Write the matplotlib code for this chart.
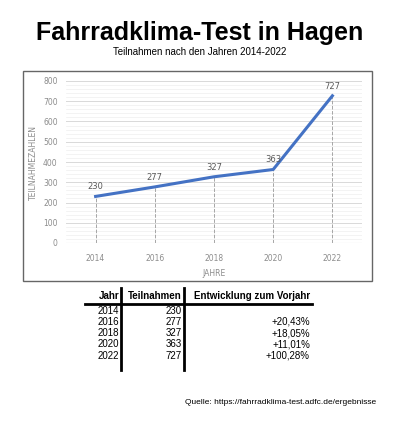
import matplotlib.pyplot as plt
from matplotlib.lines import Line2D
from matplotlib.patches import Rectangle

years = [2014, 2016, 2018, 2020, 2022]
participants = [230, 277, 327, 363, 727]
changes = ["", "+20,43%", "+18,05%", "+11,01%", "+100,28%"]

W, H = 400, 422
fig = plt.figure(figsize=(W / 100, H / 100), dpi=100)


def fx(x):
    return x / W


def fy(y):
    return 1 - y / H


fig.text(0.5, fy(33), "Fahrradklima-Test in Hagen", ha="center", va="center",
         fontsize=18, fontweight="bold", family="Liberation Sans")
fig.text(0.5, fy(52), "Teilnahmen nach den Jahren 2014-2022", ha="center", va="center",
         fontsize=7, family="Liberation Sans")

# chart frame
fig.patches.append(Rectangle((fx(23), fy(281)), fx(372) - fx(23), fy(71) - fy(281),
                             transform=fig.transFigure, fill=False, edgecolor="#666666", lw=1))

ax = fig.add_axes([fx(66), fy(243), fx(362) - fx(66), fy(81) - fy(243)])
grey = "#8c8c8c"
ax.set_ylim(0, 800)
ax.set_xlim(-0.5, 4.5)
ax.set_yticks(range(0, 801, 100))
ax.set_yticks(range(0, 801, 20), minor=True)
ax.grid(True, axis="y", which="major", color="#d9d9d9", lw=0.7)
ax.grid(True, axis="y", which="minor", color="#efefef", lw=0.5)
ax.set_axisbelow(True)
x = list(range(len(years)))
for xi, v in zip(x, participants):
    ax.plot([xi, xi], [0, v], ls="--", color="#a6a6a6", lw=0.7)
    ax.text(xi, v + 25, str(v), ha="center", va="bottom", fontsize=6, color="#595959")
ax.plot(x, participants, color="#4472c4", lw=2.2)
ax.set_xticks(x)
ax.set_xticklabels([str(y) for y in years])
ax.tick_params(axis="both", which="both", length=0, labelsize=5.5, colors=grey, pad=6)
ax.tick_params(axis="x", pad=8)
for s in ax.spines.values():
    s.set_visible(False)
ax.axhline(0, color="#d9d9d9", lw=0.8)
ax.set_xlabel("JAHRE", fontsize=5.5, color=grey, labelpad=4)
ax.set_ylabel("TEILNAHMEZAHLEN", fontsize=5.5, color=grey, labelpad=4)

# table
tf = dict(family="Liberation Sans", fontsize=7)
hy = 296
fig.text(fx(119), fy(hy), "Jahr", ha="right", va="center", fontweight="bold", **tf)
fig.text(fx(182), fy(hy), "Teilnahmen", ha="right", va="center", fontweight="bold", **tf)
fig.text(fx(310), fy(hy), "Entwicklung zum Vorjahr", ha="right", va="center", fontweight="bold", **tf)
for i, (yr, p, c) in enumerate(zip(years, participants, changes)):
    ry = 310.5 + i * 11.3
    fig.text(fx(119), fy(ry), str(yr), ha="right", va="center", **tf)
    fig.text(fx(182), fy(ry), str(p), ha="right", va="center", **tf)
    fig.text(fx(310), fy(ry), c, ha="right", va="center", **tf)
fig.add_artist(Line2D([fx(85), fx(312)], [fy(304), fy(304)], color="black", lw=2))
for vx in (121, 184):
    fig.add_artist(Line2D([fx(vx), fx(vx)], [fy(288), fy(370)], color="black", lw=2))

fig.text(fx(376), fy(403), "Quelle: https://fahrradklima-test.adfc.de/ergebnisse",
         ha="right", va="center", fontsize=6, family="Liberation Sans")

fig.savefig("out.png", dpi=100)
